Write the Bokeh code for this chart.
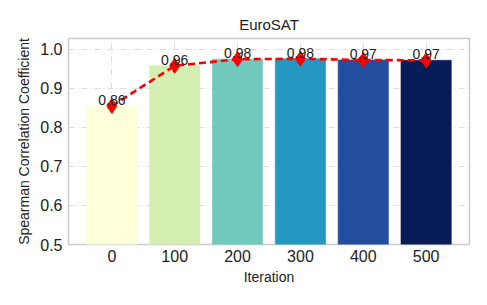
import numpy as np
from bokeh.plotting import figure
from bokeh.models import ColumnDataSource, Range1d, FixedTicker
from bokeh.core.properties import value
from bokeh.embed import file_html
from bokeh.resources import INLINE

iterations = ["0", "100", "200", "300", "400", "500"]
spearman = [0.855, 0.958, 0.975, 0.976, 0.973, 0.972]
labels = ["0.86", "0.96", "0.98", "0.98", "0.97", "0.97"]
colors = ["#ffffd9", "#d5efb3", "#73c8bd", "#2498c1", "#234ea0", "#081d58"]

x = np.arange(len(iterations))
src = ColumnDataSource(dict(x=x, y=spearman, lab=labels, c=colors))

FONT = "Liberation Sans"

p = figure(width=471, height=289, output_backend="svg", toolbar_location=None,
           x_range=Range1d(-0.69, 5.69), y_range=Range1d(0.5, 1.028),
           min_border_left=68, min_border_right=2, min_border_top=38, min_border_bottom=45)

p.title.text = "EuroSAT"
p.title.align = "center"
p.title.text_font = FONT
p.title.text_font_size = "15px"
p.title.text_font_style = "normal"
p.title.text_color = "#222222"
p.title.standoff = 12

p.vbar(x="x", top="y", bottom=0.5, width=0.8, fill_color="c", line_color="c", line_alpha=0.6, source=src)
p.line(x="x", y="y", line_color="#ff0000", line_width=2.6, line_dash="7 4", source=src)
p.scatter(x="x", y="y", marker="diamond", size=15, fill_color="#ff0000", line_color="#ff0000", source=src)
p.text(x="x", y="y", text="lab", text_align="center", text_baseline="bottom", y_offset=-1,
       text_font=value(FONT), text_font_size="14px", text_color="#222222", source=src)

p.xaxis.ticker = FixedTicker(ticks=list(x))
p.xaxis.major_label_overrides = {int(i): s for i, s in zip(x, iterations)}
p.yaxis.ticker = FixedTicker(ticks=[0.5, 0.6, 0.7, 0.8, 0.9, 1.0])
p.yaxis.major_label_overrides = {0.5: "0.5", 0.6: "0.6", 0.7: "0.7", 0.8: "0.8", 0.9: "0.9", 1.0: "1.0"}

for ax in (p.xaxis, p.yaxis):
    ax.axis_line_color = None
    ax.major_tick_line_color = None
    ax.minor_tick_line_color = None
    ax.major_tick_out = 0
    ax.major_tick_in = 0
    ax.minor_tick_out = 0
    ax.minor_tick_in = 0
    ax.major_label_text_font = FONT
    ax.major_label_text_font_size = "16px"
    ax.major_label_text_color = "#222222"
    ax.axis_label_text_font = FONT
    ax.axis_label_text_font_size = "14px"
    ax.axis_label_text_font_style = "normal"
    ax.axis_label_text_color = "#222222"

p.xaxis.axis_label = "Iteration"
p.yaxis.axis_label = "Spearman Correlation Coefficient"
p.xaxis.major_label_standoff = 5
p.yaxis.major_label_standoff = 6
p.xaxis.axis_label_standoff = 4
p.yaxis.axis_label_standoff = 5

p.xgrid.grid_line_color = "#dddddd"
p.ygrid.grid_line_color = "#dddddd"
p.xgrid.grid_line_dash = "6 3 1 3"
p.ygrid.grid_line_dash = "6 3 1 3"
p.xgrid.grid_line_width = 1
p.ygrid.grid_line_width = 1

p.outline_line_color = "#cccccc"
p.outline_line_width = 1.5
p.background_fill_color = "white"
p.border_fill_color = "white"

open("out.html", "w").write(file_html(p, INLINE))
